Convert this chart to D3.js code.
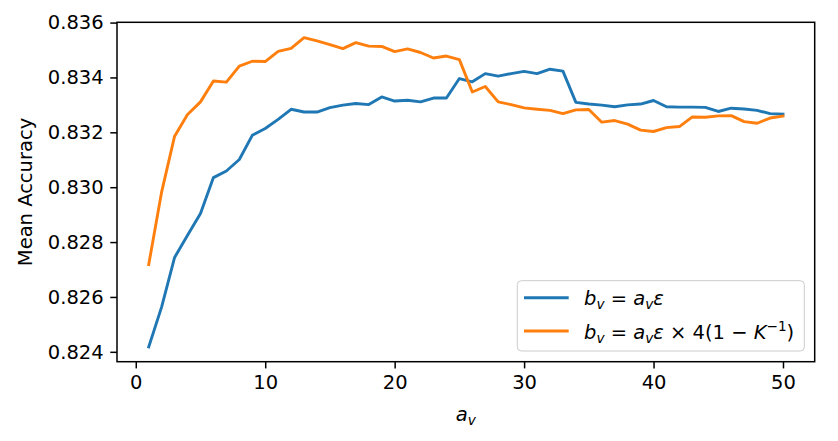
<!DOCTYPE html>
<html>
<head>
<meta charset="utf-8">
<script src="https://cdn.jsdelivr.net/npm/d3@7"></script>
<style>
  html, body { margin: 0; padding: 0; background: #fff; }
  svg { display: block; font-family: "DejaVu Sans", sans-serif; }
</style>
</head>
<body>
<svg id="chart" width="838" height="441"></svg>
<script>
const aValues = d3.range(1, 51);
const blueSeries = [
  0.82418, 0.82564, 0.82744, 0.82825, 0.82904, 0.83035, 0.83059, 0.83101, 0.83189, 0.83214,
  0.83247, 0.83284, 0.83274, 0.83274, 0.83290, 0.83299, 0.83305, 0.83301, 0.83329, 0.83314,
  0.83317, 0.83311, 0.83325, 0.83325, 0.83396, 0.83384, 0.83414, 0.83405, 0.83414, 0.83422,
  0.83414, 0.83430, 0.83423, 0.83309, 0.83303, 0.83299, 0.83293, 0.83300, 0.83303, 0.83316,
  0.83293, 0.83292, 0.83292, 0.83291, 0.83276, 0.83288, 0.83285, 0.83280, 0.83268, 0.83266
];
const orangeSeries = [
  0.82718, 0.82983, 0.83186, 0.83265, 0.83311, 0.83387, 0.83383, 0.83441, 0.83459, 0.83458,
  0.83495, 0.83506, 0.83545, 0.83533, 0.83520, 0.83505, 0.83527, 0.83514, 0.83513, 0.83494,
  0.83504, 0.83491, 0.83471, 0.83478, 0.83465, 0.83347, 0.83367, 0.83311, 0.83301, 0.83289,
  0.83284, 0.83280, 0.83268, 0.83282, 0.83283, 0.83237, 0.83243, 0.83230, 0.83208, 0.83203,
  0.83217, 0.83221, 0.83256, 0.83255, 0.83260, 0.83261, 0.83239, 0.83233, 0.83252, 0.83259
];
const xTicks = [0, 10, 20, 30, 40, 50];
const yTicks = [0.824, 0.826, 0.828, 0.830, 0.832, 0.834, 0.836];
const seriesColors = ["#1f77b4", "#ff7f0e"];

const svg = d3.select("#chart");
const L = 117, R = 814.7, T = 22.3, B = 361.7;
const x = d3.scaleLinear().domain([-1.45, 52.45]).range([L, R]);
const y = d3.scaleLinear().domain([0.82364, 0.83601]).range([B, T]);

const fs = 19.5;
const tickLen = 6.7;

// clip
svg.append("defs").append("clipPath").attr("id", "clip")
  .append("rect").attr("x", L).attr("y", T).attr("width", R - L).attr("height", B - T);

const line = d3.line().x((d, i) => x(aValues[i])).y(d => y(d));
const plot = svg.append("g").attr("clip-path", "url(#clip)");
[blueSeries, orangeSeries].forEach((s, k) => {
  plot.append("path").datum(s)
    .attr("d", line)
    .attr("fill", "none")
    .attr("stroke", seriesColors[k])
    .attr("stroke-width", 2.9)
    .attr("stroke-linejoin", "round")
    .attr("stroke-linecap", "square");
});

// axes
const xAxis = d3.axisBottom(x).tickValues(xTicks).tickSize(tickLen).tickPadding(6.7).tickFormat(d3.format("d"));
const yAxis = d3.axisLeft(y).tickValues(yTicks).tickSize(tickLen).tickPadding(6.7).tickFormat(d3.format(".3f"));
const gx = svg.append("g").attr("transform", `translate(0,${B})`).call(xAxis);
const gy = svg.append("g").attr("transform", `translate(${L},0)`).call(yAxis);
[gx, gy].forEach(g => {
  g.select(".domain").remove();
  g.selectAll("line").attr("stroke", "#000").attr("stroke-width", 1.5);
  g.selectAll("text").attr("fill", "#000").style("font-size", fs + "px").style("font-family", "DejaVu Sans");
});

// frame
svg.append("rect").attr("x", L).attr("y", T).attr("width", R - L).attr("height", B - T)
  .attr("fill", "none").attr("stroke", "#000").attr("stroke-width", 1.5);

// y label
svg.append("text")
  .attr("transform", `translate(32,${(T + B) / 2}) rotate(-90)`)
  .attr("text-anchor", "middle")
  .style("font-size", fs + "px")
  .text("Mean Accuracy");

// x label
const xl = svg.append("text").attr("x", (L + R) / 2).attr("y", 421).attr("text-anchor", "middle").style("font-size", fs + "px");
xl.append("tspan").style("font-style", "italic").text("a");
xl.append("tspan").style("font-style", "italic").style("font-size", (fs * 0.7) + "px").attr("dy", 4).text("v");

// legend
const lg = svg.append("g");
lg.append("rect").attr("x", 517.3).attr("y", 280.7).attr("width", 287).attr("height", 70.3)
  .attr("rx", 4).attr("fill", "#fff").attr("fill-opacity", 0.8).attr("stroke", "#cccccc");
const legendY = [297.7, 331];
legendY.forEach((ly, k) => {
  lg.append("line").attr("x1", 524).attr("x2", 568.7).attr("y1", ly).attr("y2", ly)
    .attr("stroke", seriesColors[k]).attr("stroke-width", 2.9);
});
function mathLabel(g, xPos, yBase, withFactor) {
  const t = g.append("text").attr("x", xPos).attr("y", yBase).style("font-size", fs + "px");
  const sub = fs * 0.7;
  t.append("tspan").style("font-style", "italic").text("b");
  t.append("tspan").style("font-style", "italic").style("font-size", sub + "px").attr("dy", 4).text("v");
  t.append("tspan").attr("dy", -4).text(" = ");
  t.append("tspan").style("font-style", "italic").text("a");
  t.append("tspan").style("font-style", "italic").style("font-size", sub + "px").attr("dy", 4).text("v");
  t.append("tspan").style("font-style", "italic").attr("dy", -4).text("ε");
  if (withFactor) {
    t.append("tspan").text(" × 4(1 − ");
    t.append("tspan").style("font-style", "italic").text("K");
    t.append("tspan").style("font-size", sub + "px").attr("dy", -8).text("−1");
    t.append("tspan").attr("dy", 8).text(")");
  }
}
mathLabel(lg, 584, 305, false);
mathLabel(lg, 584, 339, true);
</script>
</body>
</html>
